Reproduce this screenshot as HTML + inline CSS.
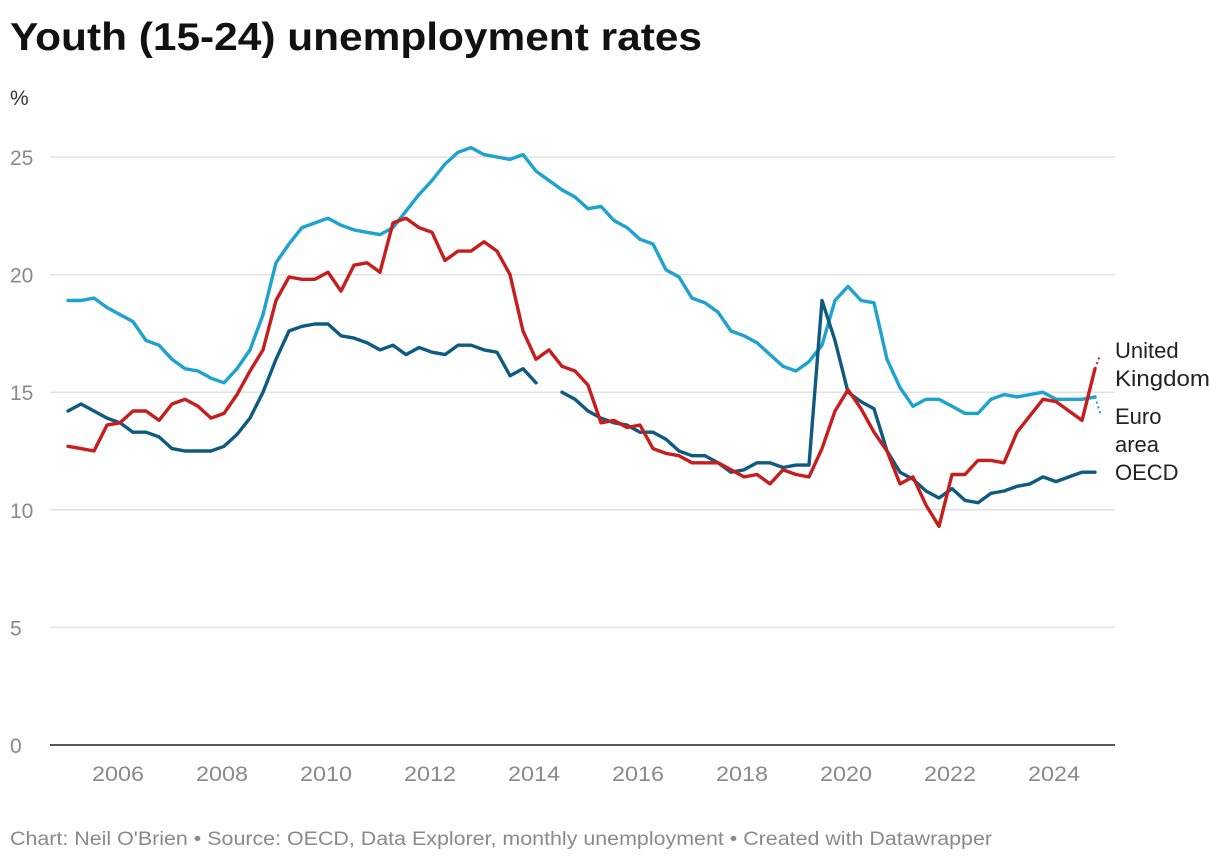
<!DOCTYPE html>
<html><head><meta charset="utf-8">
<style>
body{margin:0;background:#fff;width:1220px;height:862px;overflow:hidden;font-family:"Liberation Sans",Arial,sans-serif;}
svg{display:block}
</style></head>
<body>
<svg id="chart" width="1220" height="862" viewBox="0 0 1220 862" xmlns="http://www.w3.org/2000/svg">
<text x="10" y="50" font-size="39" font-weight="bold" fill="#111" textLength="692" lengthAdjust="spacingAndGlyphs">Youth (15-24) unemployment rates</text>
<text x="10" y="105" font-size="21" fill="#333">%</text>
<g id="grid"></g>
<g id="ylabels"></g>
<g id="xlabels"></g>
<g id="lines"></g>
<text x="1115" y="358" font-size="22" fill="#222"><tspan x="1115">United</tspan><tspan x="1115" dy="28" textLength="95" lengthAdjust="spacingAndGlyphs">Kingdom</tspan></text>
<text x="1115" y="424" font-size="22" fill="#222"><tspan x="1115">Euro</tspan><tspan x="1115" dy="28">area</tspan></text>
<text x="1115" y="480" font-size="22" fill="#222">OECD</text>
<text x="10" y="845" font-size="19" fill="#8a8a8a" textLength="982" lengthAdjust="spacingAndGlyphs">Chart: Neil O'Brien • Source: OECD, Data Explorer, monthly unemployment • Created with Datawrapper</text>
</svg>
<script>
const startYear = 2005;
const stepYears = 0.25;
const yTicks = [0,5,10,15,20,25];
const xTickYears = [2006,2008,2010,2012,2014,2016,2018,2020,2022,2024];
const euroArea = [18.9,18.9,19.0,18.6,18.3,18.0,17.2,17.0,16.4,16.0,15.9,15.6,15.4,16.0,16.8,18.3,20.5,21.3,22.0,22.2,22.4,22.1,21.9,21.8,21.7,22.0,22.7,23.4,24.0,24.7,25.2,25.4,25.1,25.0,24.9,25.1,24.4,24.0,23.6,23.3,22.8,22.9,22.3,22.0,21.5,21.3,20.2,19.9,19.0,18.8,18.4,17.6,17.4,17.1,16.6,16.1,15.9,16.3,17.0,18.9,19.5,18.9,18.8,16.4,15.2,14.4,14.7,14.7,14.4,14.1,14.1,14.7,14.9,14.8,14.9,15.0,14.7,14.7,14.7,14.8];
const unitedKingdom = [12.7,12.6,12.5,13.6,13.7,14.2,14.2,13.8,14.5,14.7,14.4,13.9,14.1,14.9,15.9,16.8,18.9,19.9,19.8,19.8,20.1,19.3,20.4,20.5,20.1,22.2,22.4,22.0,21.8,20.6,21.0,21.0,21.4,21.0,20.0,17.6,16.4,16.8,16.1,15.9,15.3,13.7,13.8,13.5,13.6,12.6,12.4,12.3,12.0,12.0,12.0,11.7,11.4,11.5,11.1,11.7,11.5,11.4,12.6,14.2,15.1,14.3,13.3,12.5,11.1,11.4,10.2,9.3,11.5,11.5,12.1,12.1,12.0,13.3,14.0,14.7,14.6,14.2,13.8,16.0];
const oecd = [14.2,14.5,14.2,13.9,13.7,13.3,13.3,13.1,12.6,12.5,12.5,12.5,12.7,13.2,13.9,15.0,16.4,17.6,17.8,17.9,17.9,17.4,17.3,17.1,16.8,17.0,16.6,16.9,16.7,16.6,17.0,17.0,16.8,16.7,15.7,16.0,15.4,null,15.0,14.7,14.2,13.9,13.7,13.6,13.3,13.3,13.0,12.5,12.3,12.3,12.0,11.6,11.7,12.0,12.0,11.8,11.9,11.9,18.9,17.2,15.0,14.6,14.3,12.5,11.6,11.3,10.8,10.5,10.9,10.4,10.3,10.7,10.8,11.0,11.1,11.4,11.2,11.4,11.6,11.6];
const ukProvisional = 16.6;
const euroProvisional = 14.1;

const NS="http://www.w3.org/2000/svg";
const xScale = t => 68 + (t - startYear) * 52;
const yScale = v => 745 - v * 23.52;
function mk(tag, attrs, parent){const e=document.createElementNS(NS,tag);for(const k in attrs)e.setAttribute(k,attrs[k]);parent.appendChild(e);return e;}
const grid=document.getElementById('grid'), yl=document.getElementById('ylabels'), xl=document.getElementById('xlabels'), lines=document.getElementById('lines');
yTicks.forEach(v=>{
  if(v>0){const g=mk('line',{x1:50,x2:1115,y1:yScale(v),y2:yScale(v),stroke:'#e2e2e2','stroke-width':1.5},grid);
  
  }
  const t=mk('text',{x:10,y:yScale(v)+8,'font-size':21,fill:'#8a8a8a'},yl);
  t.textContent=v;
  
  
});
const ax=mk('line',{x1:50,x2:1115,y1:yScale(0),y2:yScale(0),stroke:'#222','stroke-width':1.5},grid);


xTickYears.forEach(y=>{
  const t=mk('text',{x:xScale(y)-2,y:781,'font-size':21,fill:'#8a8a8a','text-anchor':'middle',textLength:52,lengthAdjust:'spacingAndGlyphs'},xl);
  t.textContent=y;
  
  
});
function drawSeries(arr,color,name,prov){
  let d='',pen=false;
  arr.forEach((v,i)=>{
    if(v===null){pen=false;return;}
    d+=(pen?'L':'M')+xScale(startYear+i*stepYears).toFixed(1)+','+yScale(v).toFixed(1);
    pen=true;
  });
  const p=mk('path',{d:d,fill:'none',stroke:color,'stroke-width':3.4,'stroke-linejoin':'round','stroke-linecap':'round'},lines);
  
  
  if(prov!==undefined){
    const n=arr.length-1;
    const q=mk('line',{x1:xScale(startYear+n*stepYears),y1:yScale(arr[n]),x2:xScale(startYear+(n+0.4)*stepYears),y2:yScale(prov),stroke:color,'stroke-width':2,'stroke-dasharray':'2,3'},lines);
    
    
  }
}
drawSeries(euroArea,'#1ea2cf','euro-area',euroProvisional);
drawSeries(oecd,'#0f5a80','oecd');
drawSeries(unitedKingdom,'#c71e1d','united-kingdom',ukProvisional);
</script>
</body></html>
